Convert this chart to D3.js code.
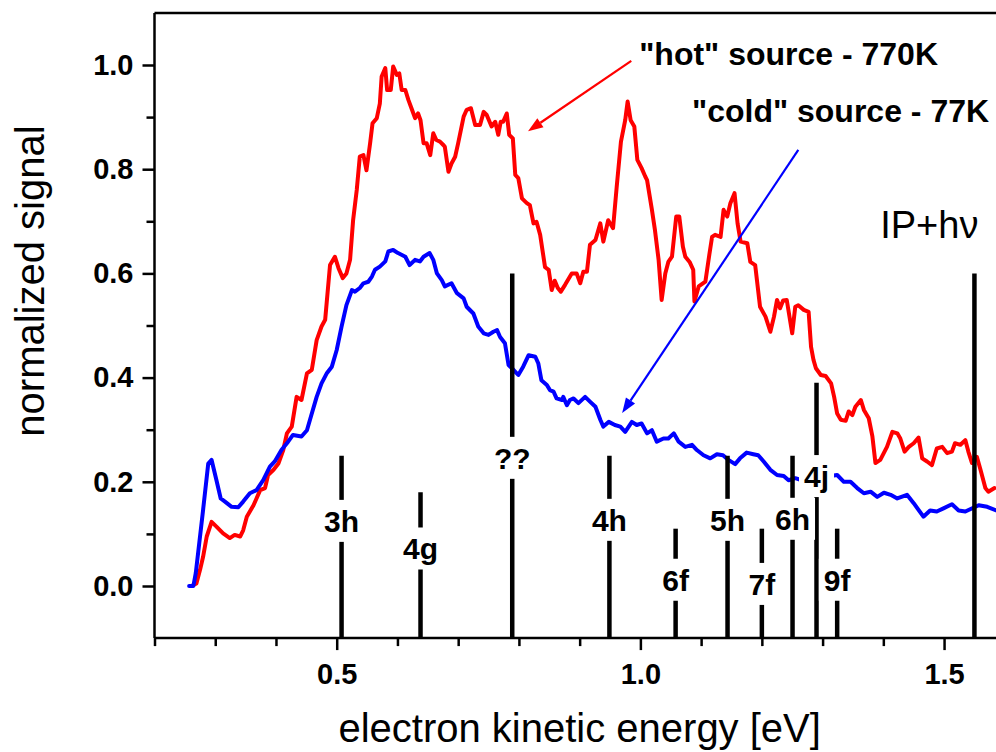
<!DOCTYPE html>
<html>
<head>
<meta charset="utf-8">
<script src="https://cdn.jsdelivr.net/npm/d3@7"></script>
<style>
  html, body { margin: 0; padding: 0; background: #fff; }
  svg { display: block; font-family: "Liberation Sans", Arial, sans-serif; }
</style>
</head>
<body>
<svg id="chart" width="996" height="752"></svg>
<script>
// Photoelectron spectra: "cold" (77K) and "hot" (770K) source
const coldEnergy = [0.257,0.264,0.268,0.280,0.2885,0.294,0.302,0.309,0.316,0.327,0.338,0.346,0.357,0.368,0.379,0.390,0.398,0.409,0.420,0.428,0.442,0.451,0.459,0.467,0.475,0.484,0.492,0.500,0.508,0.516,0.525,0.530,0.538,0.544,0.552,0.558,0.563,0.571,0.580,0.585,0.593,0.601,0.613,0.620,0.629,0.637,0.643,0.653,0.659,0.665,0.673,0.678,0.689,0.698,0.709,0.714,0.725,0.733,0.742,0.750,0.758,0.764,0.769,0.777,0.783,0.791,0.799,0.807,0.816,0.827,0.832,0.837,0.846,0.851,0.857,0.862,0.871,0.873,0.879,0.884,0.890,0.898,0.909,0.917,0.926,0.934,0.939,0.948,0.958,0.967,0.975,0.986,0.994,1.002,1.011,1.019,1.027,1.038,1.046,1.055,1.063,1.074,1.085,1.093,1.104,1.115,1.126,1.136,1.145,1.156,1.164,1.175,1.186,1.194,1.203,1.214,1.225,1.236,1.244,1.255,1.266,1.324,1.335,1.346,1.357,1.368,1.379,1.390,1.401,1.412,1.423,1.439,1.450,1.466,1.477,1.488,1.499,1.513,1.524,1.535,1.557,1.571,1.586];
const coldSignal = [0.000,0.000,0.025,0.146,0.235,0.242,0.203,0.168,0.162,0.152,0.151,0.162,0.178,0.184,0.203,0.229,0.239,0.261,0.277,0.290,0.287,0.299,0.331,0.363,0.389,0.409,0.421,0.453,0.498,0.539,0.568,0.565,0.572,0.581,0.584,0.594,0.607,0.613,0.623,0.642,0.645,0.639,0.632,0.616,0.626,0.623,0.632,0.639,0.626,0.600,0.587,0.575,0.581,0.562,0.552,0.536,0.523,0.498,0.485,0.482,0.488,0.491,0.478,0.466,0.424,0.415,0.405,0.421,0.443,0.440,0.427,0.395,0.386,0.376,0.373,0.360,0.357,0.363,0.347,0.357,0.360,0.351,0.363,0.354,0.344,0.319,0.306,0.315,0.309,0.306,0.296,0.315,0.309,0.312,0.293,0.299,0.277,0.283,0.283,0.293,0.277,0.267,0.271,0.261,0.251,0.245,0.253,0.251,0.242,0.234,0.245,0.256,0.253,0.251,0.239,0.223,0.213,0.211,0.203,0.207,0.203,0.213,0.200,0.200,0.188,0.178,0.181,0.171,0.179,0.175,0.168,0.175,0.159,0.133,0.145,0.143,0.149,0.157,0.145,0.143,0.155,0.152,0.145];

const hotEnergy = [0.261,0.269,0.275,0.280,0.286,0.294,0.302,0.313,0.324,0.332,0.341,0.346,0.352,0.363,0.374,0.382,0.387,0.396,0.404,0.412,0.418,0.426,0.434,0.442,0.451,0.459,0.467,0.475,0.481,0.489,0.497,0.503,0.510,0.516,0.522,0.527,0.533,0.538,0.544,0.549,0.555,0.559,0.566,0.571,0.574,0.580,0.583,0.589,0.593,0.599,0.603,0.607,0.613,0.618,0.624,0.629,0.634,0.638,0.643,0.648,0.654,0.659,0.664,0.670,0.676,0.678,0.684,0.689,0.695,0.700,0.709,0.714,0.721,0.728,0.736,0.742,0.747,0.755,0.761,0.766,0.770,0.774,0.780,0.784,0.790,0.794,0.799,0.805,0.813,0.818,0.824,0.829,0.835,0.843,0.849,0.854,0.859,0.864,0.869,0.876,0.887,0.895,0.901,0.906,0.912,0.917,0.926,0.934,0.939,0.947,0.955,0.961,0.968,0.975,0.979,0.984,0.990,0.995,1.002,1.008,1.011,1.019,1.024,1.030,1.035,1.041,1.046,1.052,1.059,1.064,1.070,1.074,1.081,1.087,1.089,1.096,1.107,1.113,1.118,1.123,1.132,1.137,1.143,1.148,1.155,1.160,1.165,1.176,1.181,1.189,1.197,1.206,1.214,1.220,1.225,1.230,1.235,1.241,1.250,1.255,1.260,1.269,1.277,1.281,1.285,1.289,1.297,1.305,1.314,1.319,1.324,1.330,1.338,1.343,1.349,1.354,1.363,1.368,1.376,1.382,1.387,1.395,1.406,1.415,1.423,1.428,1.435,1.442,1.450,1.458,1.464,1.472,1.480,1.488,1.497,1.505,1.513,1.518,1.527,1.535,1.540,1.546,1.554,1.560,1.568,1.573,1.583];
const hotSignal = [0.000,0.005,0.031,0.056,0.095,0.123,0.114,0.101,0.092,0.098,0.095,0.107,0.133,0.155,0.184,0.188,0.213,0.223,0.235,0.261,0.293,0.306,0.363,0.357,0.408,0.415,0.472,0.498,0.511,0.616,0.632,0.610,0.591,0.600,0.626,0.702,0.760,0.824,0.827,0.798,0.850,0.888,0.898,0.926,0.978,0.994,0.952,0.952,0.997,0.981,0.984,0.952,0.952,0.933,0.914,0.898,0.907,0.894,0.850,0.850,0.827,0.869,0.856,0.853,0.846,0.843,0.795,0.811,0.824,0.850,0.901,0.914,0.917,0.885,0.885,0.910,0.904,0.882,0.891,0.866,0.891,0.891,0.907,0.866,0.859,0.789,0.783,0.744,0.735,0.731,0.696,0.699,0.674,0.612,0.607,0.568,0.586,0.572,0.565,0.578,0.600,0.600,0.581,0.603,0.603,0.655,0.664,0.696,0.661,0.702,0.687,0.766,0.853,0.894,0.930,0.894,0.882,0.818,0.802,0.786,0.779,0.722,0.683,0.626,0.549,0.600,0.622,0.632,0.709,0.709,0.651,0.632,0.622,0.607,0.546,0.575,0.584,0.632,0.670,0.674,0.670,0.722,0.709,0.734,0.754,0.696,0.661,0.658,0.622,0.616,0.536,0.517,0.488,0.517,0.549,0.533,0.548,0.549,0.485,0.536,0.539,0.530,0.526,0.459,0.434,0.418,0.405,0.403,0.389,0.363,0.331,0.319,0.317,0.335,0.328,0.344,0.357,0.338,0.322,0.287,0.236,0.242,0.267,0.296,0.293,0.283,0.258,0.267,0.274,0.285,0.245,0.239,0.232,0.264,0.267,0.255,0.258,0.274,0.271,0.280,0.258,0.236,0.248,0.223,0.188,0.181,0.188];

// Rydberg level positions (stick spectrum)
const stickLabels = ["3h","4g","??","4h","6f","5h","7f","6h","4j","9f",""];
const stickEnergy = [0.508,0.638,0.789,0.949,1.058,1.1435,1.200,1.2505,1.290,1.324,1.550];
const stickHeight = [0.25,0.18,0.60,0.25,0.11,0.25,0.11,0.25,0.39,0.11,0.60];
const stickLabelCenter = [0.125,0.072,0.246,0.127,0.012,0.127,0.004,0.129,0.211,0.012,null];

const xTicksMajor = [0.5,1.0,1.5];
const yTicksMajor = [0.0,0.2,0.4,0.6,0.8,1.0];

const svg = d3.select("#chart");
const x = d3.scaleLinear().domain([0.2, 1.6]).range([154.5, 1004.8]);
const y = d3.scaleLinear().domain([-0.1, 1.1]).range([638.1, 12.9]);

const plotL = x.range()[0], plotR = x.range()[1], plotT = y.range()[1], plotB = y.range()[0];

svg.append("defs").append("clipPath").attr("id", "plotClip")
  .append("rect").attr("x", plotL).attr("y", plotT)
  .attr("width", plotR - plotL).attr("height", plotB - plotT);

const plot = svg.append("g").attr("clip-path", "url(#plotClip)");

const line = d3.line().x(d => x(d[0])).y(d => y(d[1]));
const hotData = hotEnergy.map((e, i) => [e, hotSignal[i]]);
const coldData = coldEnergy.map((e, i) => [e, coldSignal[i]]);

plot.append("path").datum(hotData).attr("d", line)
  .attr("fill", "none").attr("stroke", "#ff0000").attr("stroke-width", 4)
  .attr("stroke-linejoin", "round").attr("stroke-linecap", "round");
plot.append("path").datum(coldData).attr("d", line)
  .attr("fill", "none").attr("stroke", "#0000ff").attr("stroke-width", 4)
  .attr("stroke-linejoin", "round").attr("stroke-linecap", "round");

// sticks
plot.selectAll("line.stick").data(stickEnergy).enter().append("line")
  .attr("class", "stick")
  .attr("x1", d => x(d)).attr("x2", d => x(d))
  .attr("y1", y(-0.1)).attr("y2", (d, i) => y(stickHeight[i]))
  .attr("stroke", "#000").attr("stroke-width", 4.5);

// stick labels on white patches
const labG = svg.append("g");
stickLabels.forEach((lab, i) => {
  if (!lab) return;
  const cx = x(stickEnergy[i]);
  const cy = y(stickLabelCenter[i]);
  const g = labG.append("g");
  const r = g.append("rect").attr("fill", "#fff");
  const t = g.append("text").text(lab)
    .attr("x", cx).attr("y", cy + 11)
    .attr("text-anchor", "middle")
    .attr("font-weight", "bold").attr("font-size", 30).attr("fill", "#000");
  const bb = t.node().getBBox();
  r.attr("x", bb.x - 5).attr("width", bb.width + 10)
   .attr("y", cy - 21).attr("height", 42);
});

// axes frame
const frame = svg.append("g").attr("stroke", "#000").attr("stroke-width", 2.5).attr("fill", "none");
frame.append("line").attr("x1", plotL).attr("x2", plotL).attr("y1", plotT).attr("y2", plotB);
frame.append("line").attr("x1", plotL).attr("x2", plotR).attr("y1", plotB).attr("y2", plotB);
frame.append("line").attr("x1", plotL).attr("x2", plotR).attr("y1", plotT).attr("y2", plotT);
frame.append("line").attr("x1", plotR).attr("x2", plotR).attr("y1", plotT).attr("y2", plotB);

// x axis
const xAxis = svg.append("g").attr("transform", `translate(0,${plotB})`)
  .call(d3.axisBottom(x).tickValues(xTicksMajor).tickFormat(d3.format(".1f")).tickSize(12).tickPadding(13));
const xMinor = svg.append("g").attr("transform", `translate(0,${plotB})`)
  .call(d3.axisBottom(x).tickValues(d3.range(0.2, 1.61, 0.1).filter(v => !xTicksMajor.some(m => Math.abs(m - v) < 1e-6))).tickFormat("").tickSize(8));
// y axis
const yAxis = svg.append("g").attr("transform", `translate(${plotL},0)`)
  .call(d3.axisLeft(y).tickValues(yTicksMajor).tickFormat(d3.format(".1f")).tickSize(12).tickPadding(9));
const yMinor = svg.append("g").attr("transform", `translate(${plotL},0)`)
  .call(d3.axisLeft(y).tickValues([0.1,0.3,0.5,0.7,0.9]).tickFormat("").tickSize(8));

[xAxis, xMinor, yAxis, yMinor].forEach(a => {
  a.select(".domain").remove();
  a.selectAll(".tick line").attr("stroke", "#000").attr("stroke-width", 2.5);
  a.selectAll(".tick text").attr("fill", "#000")
    .attr("font-family", "Liberation Sans, Arial, sans-serif")
    .attr("font-size", 29).attr("font-weight", "bold");
});

// axis titles
svg.append("text").text("electron kinetic energy [eV]")
  .attr("x", (plotL + plotR) / 2).attr("y", 742)
  .attr("text-anchor", "middle").attr("font-size", 40).attr("fill", "#000");
svg.append("text").text("normalized signal")
  .attr("transform", "translate(44,281) rotate(-90)")
  .attr("text-anchor", "middle").attr("font-size", 40).attr("fill", "#000");

// annotations
svg.append("text").text("\"hot\" source - 770K")
  .attr("x", x(0.998)).attr("y", y(1.0))
  .attr("font-size", 32).attr("font-weight", "bold").attr("fill", "#000");
svg.append("text").text("\"cold\" source - 77K")
  .attr("x", x(1.085)).attr("y", y(0.891))
  .attr("font-size", 32).attr("font-weight", "bold").attr("fill", "#000");
svg.append("text").text("IP+hν")
  .attr("x", x(1.55) + 4).attr("y", y(0.668))
  .attr("text-anchor", "end").attr("font-size", 38).attr("fill", "#000");

function arrow(x1, y1, x2, y2, color) {
  const X1 = x(x1), Y1 = y(y1), X2 = x(x2), Y2 = y(y2);
  const ang = Math.atan2(Y2 - Y1, X2 - X1);
  const len = 15, half = 5.5;
  const bx = X2 - len * Math.cos(ang), by = Y2 - len * Math.sin(ang);
  svg.append("line").attr("x1", X1).attr("y1", Y1).attr("x2", bx).attr("y2", by)
    .attr("stroke", color).attr("stroke-width", 2.2);
  const px = -Math.sin(ang), py = Math.cos(ang);
  svg.append("path")
    .attr("d", `M${X2},${Y2}L${bx + half * px},${by + half * py}L${bx - half * px},${by - half * py}Z`)
    .attr("fill", color);
}
arrow(0.985, 1.008, 0.815, 0.873, "#ff0000");
arrow(1.260, 0.837, 0.970, 0.332, "#0000ff");
</script>
</body>
</html>
